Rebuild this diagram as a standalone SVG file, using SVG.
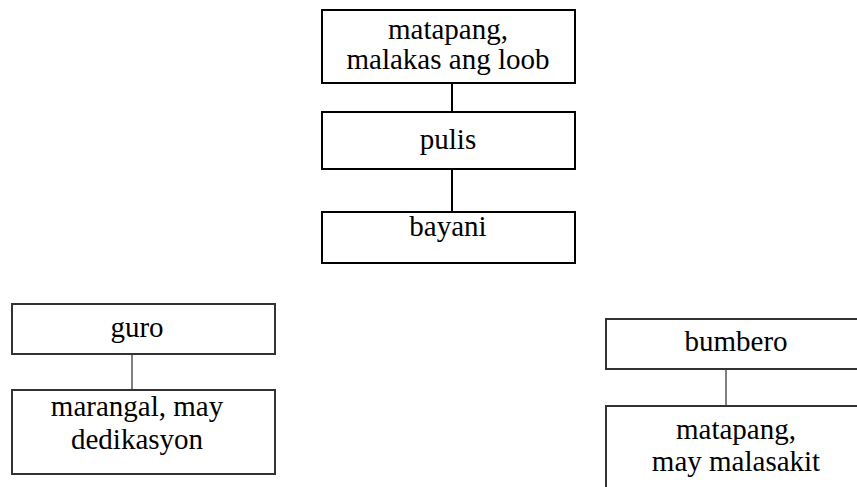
<svg xmlns="http://www.w3.org/2000/svg" width="857" height="487" viewBox="0 0 857 487">
<style>
.box{fill:#fff;stroke:#000;stroke-width:2}
.box2{fill:#fff;stroke:#333;stroke-width:2}
.t{font-family:"Liberation Serif","Times New Roman",serif;font-size:29px;fill:#000;text-anchor:middle}
.c1{stroke:#000;stroke-width:2;fill:none}
.c2{stroke:#555;stroke-width:1.5;fill:none}
</style>
<rect width="857" height="487" fill="#fff"/>
<g id="connectors">
<line class="c1" x1="452" y1="83" x2="452" y2="112"/>
<line class="c1" x1="452" y1="169" x2="452" y2="212"/>
<line class="c2" x1="132" y1="354" x2="132" y2="390"/>
<line class="c2" x1="726" y1="369" x2="726" y2="406"/>
</g>
<g id="n-matapang">
<rect class="box" x="322" y="10" width="253" height="73"/>
<text class="t" x="448" y="39">matapang,</text>
<text class="t" x="448" y="69">malakas ang loob</text>
</g>
<g id="n-pulis">
<rect class="box" x="322" y="112" width="253" height="57"/>
<text class="t" x="448" y="149">pulis</text>
</g>
<g id="n-bayani">
<rect class="box" x="322" y="212" width="253" height="51"/>
<text class="t" x="448" y="236">bayani</text>
</g>
<g id="n-guro">
<rect class="box2" x="12" y="304" width="263" height="50"/>
<text class="t" x="137" y="337">guro</text>
</g>
<g id="n-marangal">
<rect class="box2" x="12" y="390" width="263" height="84"/>
<text class="t" x="137" y="416">marangal, may</text>
<text class="t" x="137" y="449">dedikasyon</text>
</g>
<g id="n-bumbero">
<rect class="box2" x="606" y="319" width="270" height="50"/>
<text class="t" x="736" y="351">bumbero</text>
</g>
<g id="n-matapang2">
<rect class="box2" x="606" y="406" width="270" height="100"/>
<text class="t" x="736" y="439">matapang,</text>
<text class="t" x="736" y="471">may malasakit</text>
</g>
</svg>
